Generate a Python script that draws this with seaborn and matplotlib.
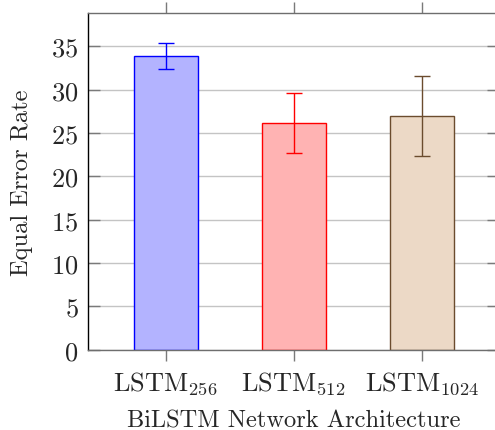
import matplotlib
matplotlib.use("Agg")
import matplotlib.pyplot as plt
import seaborn as sns
import numpy as np
import pandas as pd

# Equal error rate per BiLSTM width, with standard-deviation error bars
architectures = ["LSTM$_{256}$", "LSTM$_{512}$", "LSTM$_{1024}$"]
eer_mean = [33.85, 26.15, 26.92]
eer_std = [1.5, 3.44, 4.62]

fill_colors = ["#b3b3ff", "#ffb3b3", "#ecd9c6"]
edge_colors = ["#0000ff", "#ff0000", "#6b4c2e"]

sns.set_theme(style="white")
plt.rcParams["font.family"] = ["cmr10", "DejaVu Serif"]
plt.rcParams["mathtext.fontset"] = "cm"
plt.rcParams["axes.formatter.use_mathtext"] = True

df = pd.DataFrame({"arch": architectures, "eer": eer_mean})

fig = plt.figure(figsize=(4.95, 4.31), dpi=100)
ax = fig.add_axes([0.178, 0.1863, 0.83, 0.7812])

sns.barplot(data=df, x="arch", y="eer", hue="arch", palette=fill_colors,
            saturation=1, width=0.5, errorbar=None, legend=False, ax=ax,
            zorder=2)
for patch, ec in zip(ax.patches, edge_colors):
    patch.set_edgecolor(ec)
    patch.set_linewidth(1.0)

for i, (m, s, ec) in enumerate(zip(eer_mean, eer_std, edge_colors)):
    ax.errorbar(i, m, yerr=s, fmt="none", ecolor=ec, elinewidth=1.0,
                capsize=5.5, capthick=1.0, zorder=3)

ax.set_xlim(-0.605, 2.605)
ax.set_ylim(0, 38.84)
ax.set_yticks(np.arange(0, 36, 5))
ax.yaxis.grid(True, color="#c4c4c4", linewidth=1.0, zorder=0)
ax.xaxis.grid(False)
ax.set_axisbelow(True)

for side in ["top", "bottom", "right"]:
    ax.spines[side].set_color("#6e6e6e")
ax.spines["left"].set_color("black")
for sp in ax.spines.values():
    sp.set_linewidth(1.0)

ax.tick_params(axis="x", which="both", direction="out", length=8, width=1,
               color="#7a7a7a", top=True, bottom=True, labeltop=False,
               labelsize=19, pad=6)
ax.tick_params(axis="y", which="both", direction="in", length=8.5, width=1,
               color="#7a7a7a", left=True, right=True, labelsize=19, pad=7)

ax.set_xlabel("BiLSTM Network Architecture", fontsize=17.6, labelpad=9.5)
ax.set_ylabel("Equal Error Rate", fontsize=17.6, labelpad=13)

fig.savefig("out.png", dpi=100)
